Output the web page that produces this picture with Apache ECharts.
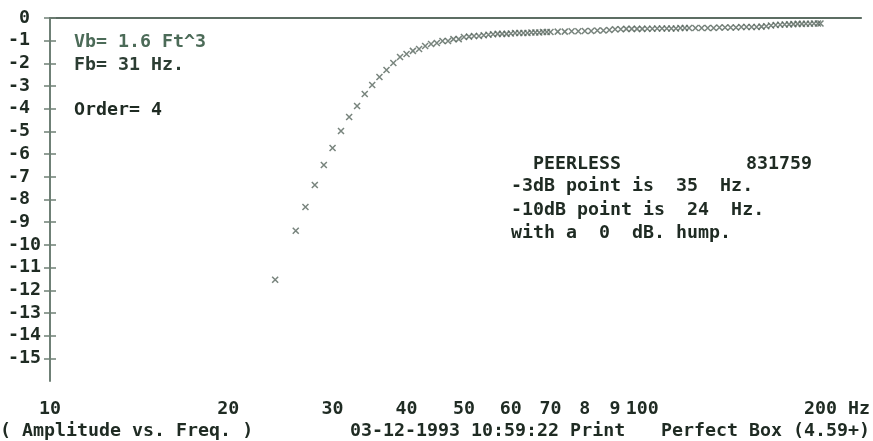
<!DOCTYPE html>
<html>
<head>
<meta charset="utf-8">
<script src="https://cdn.jsdelivr.net/npm/echarts@6/dist/echarts.min.js"></script>
<style>html,body{margin:0;padding:0;background:#fff}#c{width:873px;height:441px}</style>
</head>
<body>
<div id="c"></div>
<script>
// Frequency (Hz) of each plotted sample
const freqHz = [24, 26, 27, 28, 29, 30, 31, 32, 33, 34, 35, 36, 37, 38, 39, 40, 41, 42, 43, 44, 45, 46, 47, 48, 49,
  50, 51, 52, 53, 54, 55, 56, 57, 58, 59, 60, 61, 62, 63, 64, 65, 66, 67, 68, 69, 70,
  72, 74, 76, 78, 80, 82, 84, 86, 88, 90, 92, 94, 96, 98, 100, 102, 104, 106, 108, 110, 112, 114, 116, 118, 120,
  123, 126, 129, 132, 135, 138, 141, 144, 147, 150, 153, 156, 159, 162, 165, 168, 171, 174, 177, 180, 183, 186, 189, 192, 195, 198, 200];
// Amplitude (dB) of each sample
const ampDb = [-11.54, -9.38, -8.33, -7.36, -6.48, -5.73, -4.98, -4.36, -3.88, -3.35, -2.95, -2.60, -2.29, -1.98, -1.72, -1.59, -1.45, -1.37, -1.23, -1.15, -1.10, -1.01, -1.01, -0.93, -0.93,
  -0.84, -0.82, -0.79, -0.79, -0.76, -0.74, -0.72, -0.70, -0.70, -0.70, -0.68, -0.66, -0.66, -0.66, -0.66, -0.64, -0.64, -0.64, -0.62, -0.62, -0.62,
  -0.60, -0.60, -0.58, -0.58, -0.57, -0.57, -0.55, -0.55, -0.53, -0.50, -0.50, -0.48, -0.48, -0.48, -0.48, -0.47, -0.47, -0.46, -0.46, -0.46, -0.46, -0.46, -0.44, -0.44, -0.44,
  -0.44, -0.44, -0.44, -0.44, -0.42, -0.42, -0.42, -0.42, -0.40, -0.40, -0.40, -0.40, -0.38, -0.36, -0.33, -0.31, -0.30, -0.29, -0.28, -0.27, -0.26, -0.26, -0.25, -0.25, -0.24, -0.24, -0.24];
// Tick labels
const xTicks = [10, 20, 30, 40, 50, 60, 70, 80, 90, 100, 200];
const xTickText = ['10', '20', '30', '40', '50', '60', '70', '8', '9', '100', '200 Hz'];
const yTicks = [0, -1, -2, -3, -4, -5, -6, -7, -8, -9, -10, -11, -12, -13, -14, -15];

const FONT = '"DejaVu Sans Mono", monospace';
const FS = 18.3;
const ink = '#1f2b23';
const axisCol = '#6f8076';

const chart = echarts.init(document.getElementById('c'), null, {renderer: 'canvas'});
const pts = freqHz.map((f, i) => [f, ampDb[i]]);
const xPath = 'path://M0,0L10,10M10,0L0,10';
const tf = 'bold ' + FS + 'px ' + FONT;

chart.setOption({
  animation: false,
  backgroundColor: '#ffffff',
  grid: {left: 50, right: 4, top: 18, bottom: 60},
  xAxis: [{
    type: 'log', logBase: 10, min: 10, max: 234, position: 'bottom',
    axisLine: {show: true, lineStyle: {color: axisCol, width: 2}},
    axisTick: {show: false},
    splitLine: {show: false},
    axisLabel: {
      customValues: xTicks,
      formatter: v => {
        const i = xTicks.findIndex(t => Math.abs(t - v) < 1e-6);
        if (i < 0) return '';
        return i === xTicks.length - 1 ? '{far|' + xTickText[i] + '}' : xTickText[i];
      },
      rich: {far: {padding: [0, 0, 0, 33], fontFamily: FONT, fontWeight: 'bold', fontSize: FS, color: ink}},
      color: ink, fontFamily: FONT, fontWeight: 'bold', fontSize: FS, margin: 19
    }
  }, {
    type: 'log', logBase: 10, min: 10, max: 234, position: 'top',
    axisLine: {show: true, lineStyle: {color: '#5c6d63', width: 2}},
    axisTick: {show: false}, axisLabel: {show: false}, splitLine: {show: false}
  }],
  yAxis: [{
    type: 'value', min: -16, max: 0, interval: 1, position: 'left',
    axisLine: {show: true, lineStyle: {color: axisCol, width: 2}},
    axisTick: {show: true, inside: false, length: 6, customValues: yTicks, lineStyle: {color: axisCol, width: 1.5}},
    splitLine: {show: false},
    axisLabel: {
      customValues: yTicks,
      formatter: v => (v === 0 ? ' 0' : String(v)),
      align: 'left', margin: 42,
      color: ink, fontFamily: FONT, fontWeight: 'bold', fontSize: FS
    }
  }, {
    type: 'value', min: -16, max: 0, interval: 1, position: 'left',
    axisLine: {show: false},
    axisTick: {show: true, inside: true, length: 6, customValues: yTicks, lineStyle: {color: axisCol, width: 1.5}},
    axisLabel: {show: false}, splitLine: {show: false}
  }],
  series: [{
    type: 'scatter', xAxisIndex: 0, yAxisIndex: 0,
    data: pts, symbol: xPath, symbolSize: 6,
    itemStyle: {color: 'none', borderColor: '#56655c', borderWidth: 1.5}
  }],
  graphic: [
    {type: 'text', x: 74, y: 42, style: {text: 'Vb= 1.6 Ft^3', font: tf, fill: '#4c6b58', verticalAlign: 'middle'}},
    {type: 'text', x: 74, y: 65, style: {text: 'Fb= 31 Hz.', font: tf, fill: '#2c3d33', verticalAlign: 'middle'}},
    {type: 'text', x: 74, y: 110, style: {text: 'Order= 4', font: tf, fill: ink, verticalAlign: 'middle'}},
    {type: 'text', x: 533, y: 164, style: {text: 'PEERLESS', font: tf, fill: ink, verticalAlign: 'middle'}},
    {type: 'text', x: 746, y: 164, style: {text: '831759', font: tf, fill: ink, verticalAlign: 'middle'}},
    {type: 'text', x: 511, y: 186, style: {text: '-3dB point is  35  Hz.', font: tf, fill: ink, verticalAlign: 'middle'}},
    {type: 'text', x: 511, y: 210, style: {text: '-10dB point is  24  Hz.', font: tf, fill: ink, verticalAlign: 'middle'}},
    {type: 'text', x: 511, y: 233, style: {text: 'with a  0  dB. hump.', font: tf, fill: ink, verticalAlign: 'middle'}},
    {type: 'text', x: 0, y: 431, style: {text: '( Amplitude vs. Freq. )', font: tf, fill: ink, verticalAlign: 'middle'}},
    {type: 'text', x: 350, y: 431, style: {text: '03-12-1993 10:59:22 Print', font: tf, fill: ink, verticalAlign: 'middle'}},
    {type: 'text', x: 661, y: 431, style: {text: 'Perfect Box (4.59+)', font: tf, fill: ink, verticalAlign: 'middle'}}
  ]
});
</script>
</body>
</html>
